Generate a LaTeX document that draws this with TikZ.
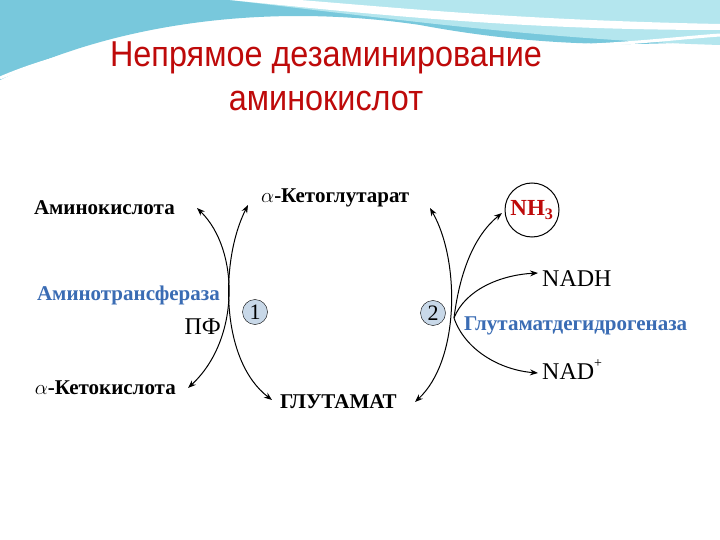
\documentclass[tikz,border=0pt]{standalone}
\usepackage{fontspec}
\setmainfont{Liberation Serif}
\newfontfamily\titlefont[FakeStretch=0.9]{Liberation Sans}
\usetikzlibrary{arrows.meta}
\definecolor{bluelab}{RGB}{58,108,180}
\definecolor{titlered}{RGB}{190,10,10}
\definecolor{teal1}{RGB}{120,200,220}
\definecolor{teal2}{RGB}{180,230,238}
\definecolor{numfill}{RGB}{200,216,232}
\begin{document}
\begin{tikzpicture}[x=1pt,y=-1pt,
  lab/.style={font=\bfseries\fontsize{21}{21}\selectfont,inner sep=1pt},
  blab/.style={lab,text=bluelab},
  plab/.style={font=\fontsize{24}{24}\selectfont,inner sep=1pt},
  num/.style={circle,draw,fill=numfill,inner sep=0pt,minimum size=25pt,font=\fontsize{22}{22}\selectfont},
  arr/.style={-{Stealth[length=8pt,width=6pt]},line width=1pt},
  darr/.style={{Stealth[length=8pt,width=6pt]}-{Stealth[length=8pt,width=6pt]},line width=1pt}]
\useasboundingbox (0,0) rectangle (720,540);
\fill[white] (0,0) rectangle (720,540);
% background waves
\fill[teal1] (0,0) -- (720,0) -- (720,40) .. controls (600,50) and (500,40) .. (420,25) .. controls (250,0) and (100,30) .. (0,80) -- cycle;
\fill[teal2] (230,0) .. controls (400,20) and (550,40) .. (720,45) -- (720,0) -- cycle;
\fill[white] (230,0) .. controls (380,15) and (520,30) .. (720,30) -- (720,24) .. controls (520,20) and (400,8) .. (300,0) -- cycle;
\draw[white,line width=3pt] (0,78) .. controls (100,35) and (250,20) .. (420,40) .. controls (550,55) and (650,40) .. (720,35);
% title
\node[font=\titlefont\fontsize{36}{36}\selectfont,text=titlered] (t1) at (326,58) {Непрямое дезаминирование};
\node[font=\titlefont\fontsize{36}{36}\selectfont,text=titlered] (t2) at (326,101) {аминокислот};
% labels
\node[lab,anchor=east] (ak) at (176,208) {Аминокислота};
\node[blab,anchor=east] (at) at (221,295) {Аминотрансфераза};
\node[plab,anchor=east] (pf) at (222,327) {ПФ};
\node[lab,anchor=east] (kk) at (177,388) {$\alpha$-Кетокислота};
\node[lab,anchor=west] (kg) at (260,198) {$\alpha$-Кетоглутарат};
\node[lab,anchor=west] (gl) at (279,402) {ГЛУТАМАТ};
\node[plab,anchor=west] (nadh) at (541,279) {NADH};
\node[blab,anchor=west] (gdh) at (463,326) {Глутаматдегидрогеназа};
\node[plab,anchor=west] (nad) at (541,370) {NAD\raisebox{1.1ex}{\fontsize{14}{14}\selectfont +}};
\node[circle,draw,line width=1pt,minimum size=54pt,inner sep=0pt,text=titlered,font=\bfseries\fontsize{23}{23}\selectfont] (nh3) at (532,210) {NH\textsubscript{3}};
\node[num] (n1) at (255,312) {1};
\node[num] (n2) at (433,313) {2};
% coordinates
\coordinate (a1) at (197,208);
\coordinate (a2) at (188,388);
\coordinate (b1) at (248,205);
\coordinate (b2) at (272,400);
\coordinate (c1) at (430,208);
\coordinate (c2) at (415,402);
\coordinate (m) at (454,318);
\coordinate (h1) at (502,213);
\coordinate (h2) at (538,273);
\coordinate (h3) at (538,373);
% arrows
\draw[darr] (a1) .. controls (240,250) and (240,340) .. (a2);
\draw[darr] (b1) .. controls (220,260) and (220,360) .. (b2);
\draw[darr] (c1) .. controls (460,260) and (460,360) .. (c2);
\draw[arr] (m) .. controls (460,270) and (475,235) .. (h1);
\draw[arr] (m) .. controls (465,290) and (500,275) .. (h2);
\draw[arr] (m) .. controls (465,350) and (500,370) .. (h3);
\end{tikzpicture}
\end{document}
